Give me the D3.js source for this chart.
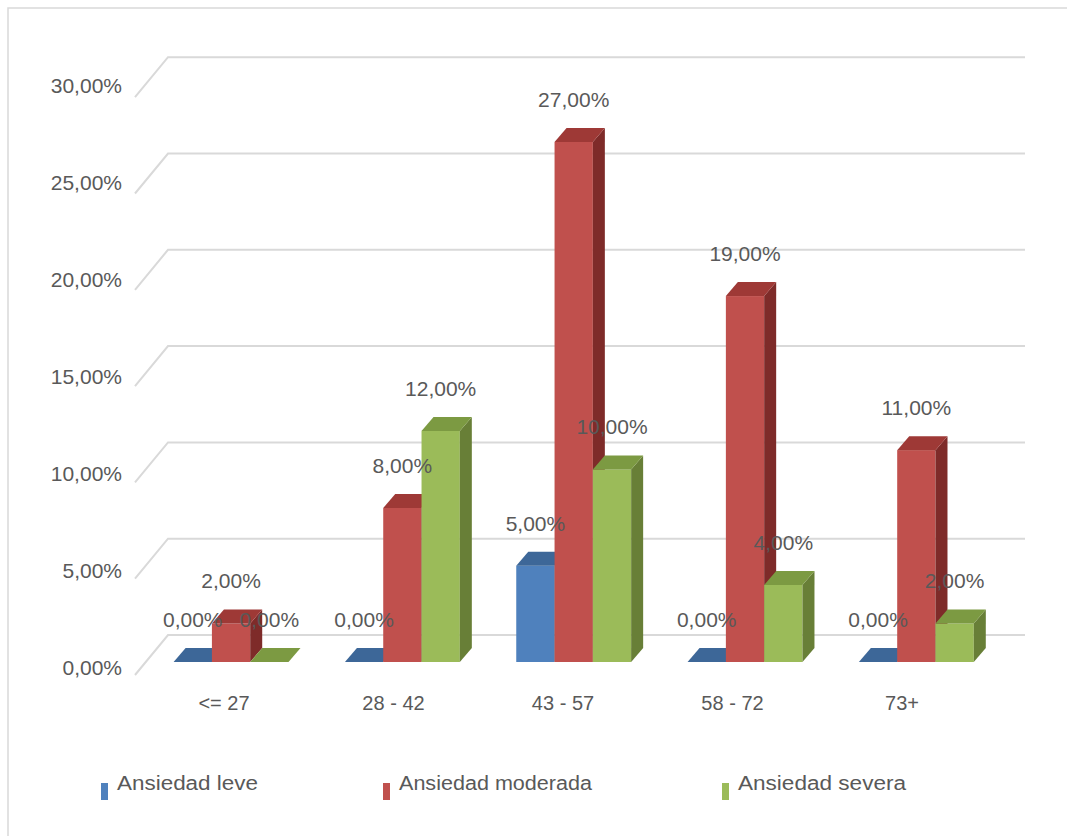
<!DOCTYPE html>
<html>
<head>
<meta charset="utf-8">
<script src="https://cdn.jsdelivr.net/npm/d3@7"></script>
<style>
  html, body { margin: 0; padding: 0; background: #fff; }
  svg { display: block; font-family: "Liberation Sans", Arial, sans-serif; }
</style>
</head>
<body>
<svg id="chart" width="1067" height="836"></svg>
<script>
// ---- data ----
const categories = ["<= 27", "28 - 42", "43 - 57", "58 - 72", "73+"];
const seriesNames = ["Ansiedad leve", "Ansiedad moderada", "Ansiedad severa"];
const leve     = [0, 0, 5, 0, 0];
const moderada = [2, 8, 27, 19, 11];
const severa   = [0, 12, 10, 4, 2];
const yTicks = [0, 5, 10, 15, 20, 25, 30];

const seriesValues = [leve, moderada, severa];
const colors = [
  { front: "#4F81BD", top: "#3D6798", side: "#375E8C" },
  { front: "#C0504D", top: "#9E3936", side: "#7E2B29" },
  { front: "#9BBB59", top: "#7C9A42", side: "#687F37" }
];

const fmt = v => d3.format(".2f")(v).replace(".", ",") + "%";

const svg = d3.select("#chart");

// frame
svg.append("rect").attr("x", 8).attr("y", 8).attr("width", 1100).attr("height", 900)
  .attr("fill", "none").attr("stroke", "#d9d9d9").attr("stroke-width", 1.5);

// scales
const y = d3.scaleLinear().domain([0, 30]).range([662, 84.2]);
const yLab = d3.scaleLinear().domain([0, 30]).range([667, 85.5]);
const x = d3.scaleBand().domain(categories).range([145.4, 1002]).padding(0);
const xLab = d3.scaleBand().domain(categories).range([139.25, 986.75]).padding(0);
const barW = 38.3;
const dx = 12, dy = 14;          // bar depth offset
const wallDx = 33, wallBack = 27, wallFront = 13;

// gridlines (back wall + side wall diagonal)
const grid = svg.append("g");
yTicks.forEach(t => {
  const yb = y(t) - wallBack;
  grid.append("path")
    .attr("d", `M135,${y(t) + wallFront} L${135 + wallDx},${yb} L1025,${yb}`)
    .attr("fill", "none").attr("stroke", "#d9d9d9").attr("stroke-width", 2);
});

// y-axis labels
svg.append("g").selectAll("text").data(yTicks).join("text")
  .attr("x", 122).attr("y", d => yLab(d))
  .attr("text-anchor", "end").attr("dominant-baseline", "central")
  .attr("font-size", 21).attr("fill", "#595959")
  .text(d => fmt(d));

// bars
const bars = svg.append("g");
const labels = [];
categories.forEach((c, ci) => {
  const cx = x(c) + x.bandwidth() / 2;
  seriesValues.forEach((vals, si) => {
    const v = vals[ci];
    const x0 = cx + (si - 1) * barW - barW / 2;
    const x1 = x0 + barW;
    const yt = y(v), y0 = y(0);
    const col = colors[si];
    if (v > 0) {
      bars.append("rect").attr("x", x0).attr("y", yt).attr("width", barW).attr("height", y0 - yt)
        .attr("fill", col.front);
      bars.append("path")
        .attr("d", `M${x1},${yt} L${x1 + dx},${yt - dy} L${x1 + dx},${y0 - dy} L${x1},${y0} Z`)
        .attr("fill", col.side);
    }
    bars.append("path")
      .attr("d", `M${x0},${yt} L${x1},${yt} L${x1 + dx},${yt - dy} L${x0 + dx},${yt - dy} Z`)
      .attr("fill", col.top);
    labels.push({ x: cx + (si - 1) * barW, y: yt - 35, v });
  });
});

// data labels
svg.append("g").selectAll("text").data(labels).join("text")
  .attr("x", d => d.x).attr("y", d => d.y)
  .attr("text-anchor", "middle")
  .attr("font-size", 21).attr("fill", "#595959")
  .text(d => fmt(d.v));

// category labels
svg.append("g").selectAll("text").data(categories).join("text")
  .attr("x", d => xLab(d) + xLab.bandwidth() / 2).attr("y", 710)
  .attr("text-anchor", "middle")
  .attr("font-size", 20).attr("fill", "#595959")
  .text(d => d);

// legend
const legX = [101, 383, 722];
const legW = [141, 193, 168];
const leg = svg.append("g");
seriesNames.forEach((n, i) => {
  leg.append("rect").attr("x", legX[i]).attr("y", 783).attr("width", 7).attr("height", 17)
    .attr("fill", colors[i].front);
  leg.append("text").attr("x", legX[i] + 16).attr("y", 790)
    .attr("font-size", 20).attr("fill", "#595959")
    .attr("textLength", legW[i]).attr("lengthAdjust", "spacingAndGlyphs")
    .text(n);
});
</script>
</body>
</html>
